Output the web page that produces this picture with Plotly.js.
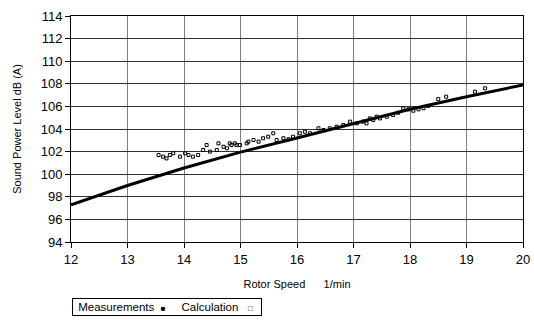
<!DOCTYPE html>
<html>
<head>
<meta charset="utf-8">
<script src="https://cdn.plot.ly/plotly-3.0.1.min.js"></script>
<style>html,body{margin:0;padding:0;background:#fff}</style>
</head>
<body>
<div id="chart" style="width:534px;height:320px"></div>
<script>
// Calculation (line)
const calcSpeed = [12, 13, 14, 15, 16, 17, 18, 19, 20];
const calcLevel = [97.3, 99.0, 100.55, 101.95, 103.2, 104.45, 105.75, 106.85, 107.9];

// Measurements (scatter)
const measSpeed = [13.55, 13.63, 13.69, 13.75, 13.81, 13.93, 14.02, 14.08, 14.16, 14.25,
  14.34, 14.40, 14.46, 14.58, 14.61, 14.70, 14.76, 14.84, 14.90, 14.99, 15.11,
  14.81, 14.93, 15.14, 15.23, 15.32, 15.40, 15.49, 15.58, 15.64, 15.76, 15.85, 15.93,
  16.05, 16.14, 16.23, 16.38, 16.47, 16.58, 16.70, 16.82, 16.94, 17.06, 17.17, 17.29, 17.41,
  17.23, 17.35, 17.47, 17.59, 17.70, 17.79, 17.88, 17.97, 18.06, 18.15, 18.24, 18.32,
  18.50, 18.64, 19.15, 19.33];
const measLevel = [101.70, 101.55, 101.40, 101.70, 101.85, 101.55, 101.85, 101.70, 101.55, 101.70,
  102.14, 102.58, 102.00, 102.14, 102.73, 102.43, 102.29, 102.58, 102.73, 102.58, 102.73,
  102.73, 102.58, 102.88, 103.03, 102.88, 103.18, 103.32, 103.62, 103.03, 103.18, 103.09, 103.32,
  103.62, 103.76, 103.62, 104.06, 103.91, 104.06, 104.20, 104.35, 104.65, 104.50, 104.65, 104.94, 105.09,
  104.50, 104.80, 104.94, 105.09, 105.24, 105.44, 105.83, 105.74, 105.62, 105.74, 105.83, 106.04,
  106.64, 106.86, 107.30, 107.60];

const xTicks = [12, 13, 14, 15, 16, 17, 18, 19, 20];
const yTicks = [94, 96, 98, 100, 102, 104, 106, 108, 110, 112, 114];

const FONT = 'Liberation Sans, Arial, sans-serif';

const traces = [
  {
    x: calcSpeed, y: calcLevel, type: 'scatter', mode: 'lines',
    line: {color: '#000', width: 3}, showlegend: false, hoverinfo: 'skip'
  },
  {
    x: measSpeed, y: measLevel, type: 'scatter', mode: 'markers',
    marker: {symbol: 'square-open', size: 3, color: '#000', line: {width: 1, color: '#000'}},
    showlegend: false, hoverinfo: 'skip'
  }
];

const layout = {
  width: 534, height: 320,
  margin: {l: 71, r: 11, t: 16, b: 78},
  paper_bgcolor: '#fff', plot_bgcolor: '#fff',
  showlegend: false,
  font: {family: FONT, color: '#000', size: 11},
  xaxis: {
    range: [12, 20], tickvals: xTicks, ticktext: xTicks.map(String),
    showgrid: true, gridcolor: '#808080', gridwidth: 1,
    showline: true, linecolor: '#000', linewidth: 1, mirror: true,
    ticks: 'outside', ticklen: 5, tickcolor: '#000',
    tickfont: {family: FONT, size: 13, color: '#000'},
    zeroline: false, automargin: false,
    title: {text: 'Rotor Speed      1/min', font: {family: FONT, size: 11, color: '#000'}, standoff: 14}
  },
  yaxis: {
    range: [94, 114], tickvals: yTicks, ticktext: yTicks.map(String),
    showgrid: true, gridcolor: '#303030', gridwidth: 1,
    showline: true, linecolor: '#000', linewidth: 1, mirror: true,
    ticks: 'outside', ticklen: 5, tickcolor: '#000',
    tickfont: {family: FONT, size: 13, color: '#000'},
    zeroline: false, automargin: false,
    title: {text: 'Sound Power Level dB (A)', font: {family: FONT, size: 11, color: '#000'}, standoff: 16}
  },
  annotations: [
    {
      xref: 'paper', yref: 'paper', x: 0.212, y: -0.288,
      xanchor: 'center', yanchor: 'middle', showarrow: false,
      text: ' Measurements  <span style="font-size:8px">■</span>     Calculation   <span style="font-size:8px">□</span>  ',
      font: {family: FONT, size: 11.5, color: '#000'},
      bordercolor: '#000', borderwidth: 1, borderpad: 2, bgcolor: '#fff',
      align: 'left'
    }
  ]
};

Plotly.newPlot('chart', traces, layout, {displayModeBar: false, staticPlot: true});
</script>
</body>
</html>
